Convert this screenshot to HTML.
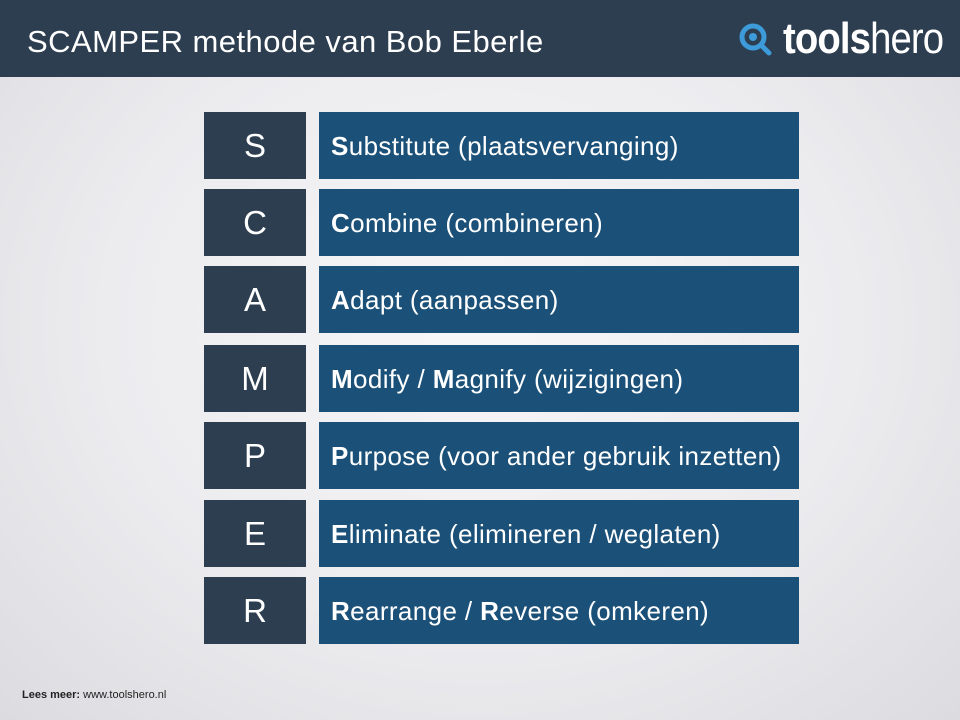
<!DOCTYPE html>
<html><head><meta charset="utf-8"><style>
body{margin:0;width:960px;height:720px;overflow:hidden;font-family:"Liberation Sans",sans-serif;background:radial-gradient(ellipse at 50% 45%,#f7f7f9 0%,#ececef 55%,#dcdce0 100%);position:relative}
.hdr{position:absolute;left:0;top:0;width:960px;height:77px;background:#2d3e50}
.title{position:absolute;left:27px;top:24px;color:#fff;font-size:31px;white-space:nowrap;letter-spacing:0.45px}
.logo{position:absolute;left:783px;top:14px;color:#fff;font-size:44px;letter-spacing:-1px;transform:scaleX(0.87);transform-origin:0 0;white-space:nowrap}
.logo b{font-weight:bold}
.lt{position:absolute;left:204px;width:102px;height:67px;background:#2c3e50;color:#fff;font-size:33px;text-align:center;line-height:68px}
.bx{position:absolute;left:319px;width:480px;height:67px;background:#1b5078;color:#fff;font-size:26px;line-height:68px;padding-left:12px;box-sizing:border-box;white-space:nowrap;letter-spacing:0.38px}
.foot{position:absolute;left:22px;top:689px;font-size:11px;color:#222}
</style></head><body>
<div class="hdr">
<div class="title">SCAMPER methode van Bob Eberle</div>
<svg style="position:absolute;left:738px;top:22px" width="40" height="36"><circle cx="15" cy="15" r="11" fill="none" stroke="#3d9bd9" stroke-width="5"/><circle cx="15" cy="15" r="4" fill="#3d9bd9"/><line x1="23" y1="23" x2="31" y2="31" stroke="#3d9bd9" stroke-width="5" stroke-linecap="round"/></svg>
<div class="logo"><b>tools</b>hero</div>
</div>
<div class="lt" style="top:112px">S</div>
<div class="bx" style="top:112px"><b>S</b>ubstitute (plaatsvervanging)</div>
<div class="lt" style="top:189px">C</div>
<div class="bx" style="top:189px"><b>C</b>ombine (combineren)</div>
<div class="lt" style="top:266px">A</div>
<div class="bx" style="top:266px"><b>A</b>dapt (aanpassen)</div>
<div class="lt" style="top:345px">M</div>
<div class="bx" style="top:345px"><b>M</b>odify / <b>M</b>agnify (wijzigingen)</div>
<div class="lt" style="top:422px">P</div>
<div class="bx" style="top:422px"><b>P</b>urpose (voor ander gebruik inzetten)</div>
<div class="lt" style="top:500px">E</div>
<div class="bx" style="top:500px"><b>E</b>liminate (elimineren / weglaten)</div>
<div class="lt" style="top:577px">R</div>
<div class="bx" style="top:577px"><b>R</b>earrange / <b>R</b>everse (omkeren)</div>
<div class="foot"><b>Lees meer:</b> www.toolshero.nl</div>
</body></html>
